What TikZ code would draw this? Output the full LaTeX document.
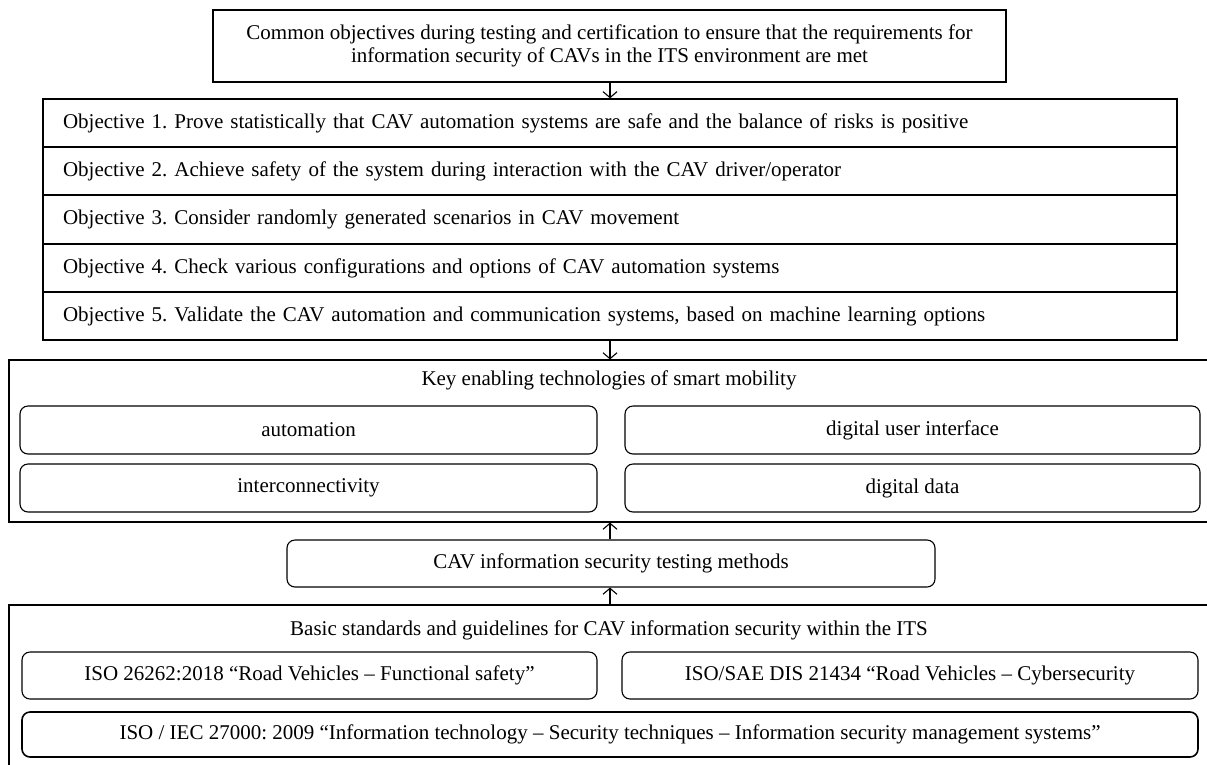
\documentclass[tikz,border=0pt]{standalone}
\usepackage{fontspec}
\setmainfont{Liberation Serif}
\usetikzlibrary{arrows.meta}
\frenchspacing

\begin{document}
\begin{tikzpicture}[x=1pt, y=-1pt, font=\fontsize{21}{23}\selectfont]
    % block styles
    \tikzstyle{box}=[
      draw,
      rectangle,
      line width=1.1pt,
      inner sep=0pt,
      align=center
    ]
    \tikzstyle{rbox}=[box, rounded corners=8pt]
    \tikzstyle{objrow}=[
      box,
      line width=1.3pt,
      text width=1094pt,
      inner xsep=20pt,
      minimum height=48pt,
      align=left
    ]
    \tikzstyle{link}=[-{Straight Barb[length=6pt, width=14pt]}, line width=1.1pt]

    \clip (0,0) rectangle (1207,764);

    % Common objectives
    \node[box, minimum width=793pt, minimum height=72pt] (goal) at (609.5,46)
      {Common objectives during testing and certification to ensure that the requirements for\\information security of CAVs in the ITS environment are met};

    % Objectives
    \node[objrow] (obj1) at (610,123) {Objective 1. Prove statistically that CAV automation systems are safe and the balance of risks is positive};
    \node[objrow] (obj2) at (610,171) {Objective 2. Achieve safety of the system during interaction with the CAV driver/operator};
    \node[objrow] (obj3) at (610,219.5) {Objective 3. Consider randomly generated scenarios in CAV movement};
    \node[objrow] (obj4) at (610,268) {Objective 4. Check various configurations and options of CAV automation systems};
    \node[objrow] (obj5) at (610,316) {Objective 5. Validate the CAV automation and communication systems, based on machine learning options};

    % Key enabling technologies
    \node[box, minimum width=1211pt, minimum height=162pt] (tech) at (614.5,441) {};
    \node (techtitle) at (609,380) {Key enabling technologies of smart mobility};
    \node[rbox, minimum width=577pt, minimum height=48pt] (auto) at (308.5,430) {automation};
    \node[rbox, minimum width=575pt, minimum height=48pt] (ui) at (912.5,430) {digital user interface};
    \node[rbox, minimum width=577pt, minimum height=48pt] (conn) at (308.5,488) {interconnectivity};
    \node[rbox, minimum width=575pt, minimum height=48pt] (data) at (912.5,488) {digital data};

    % Testing methods
    \node[rbox, minimum width=648pt, minimum height=47pt] (test) at (611,563.5) {CAV information security testing methods};

    % Standards
    \node[box, minimum width=1211pt, minimum height=185pt] (std) at (614.5,697.5) {};
    \node (stdtitle) at (609,630) {Basic standards and guidelines for CAV information security within the ITS};
    \node[rbox, minimum width=575pt, minimum height=47pt] (iso1) at (309.5,675.5) {ISO 26262:2018 “Road Vehicles – Functional safety”};
    \node[rbox, minimum width=576pt, minimum height=47pt] (iso2) at (910,675.5) {ISO/SAE DIS 21434 “Road Vehicles – Cybersecurity};
    \node[rbox, line width=1.6pt, minimum width=1176pt, minimum height=45pt] (iso3) at (610,734.5) {ISO / IEC 27000: 2009 “Information technology – Security techniques – Information security management systems”};

    % Arrows
    \draw[link] (goal.south -| obj1.north) -- (obj1.north);
    \draw[link] (obj5.south) -- (obj5.south |- tech.north);
    \draw[link] (obj5.south |- test.north) -- (obj5.south |- tech.south);
    \draw[link] (obj5.south |- std.north) -- (obj5.south |- test.south);
\end{tikzpicture}
\end{document}
